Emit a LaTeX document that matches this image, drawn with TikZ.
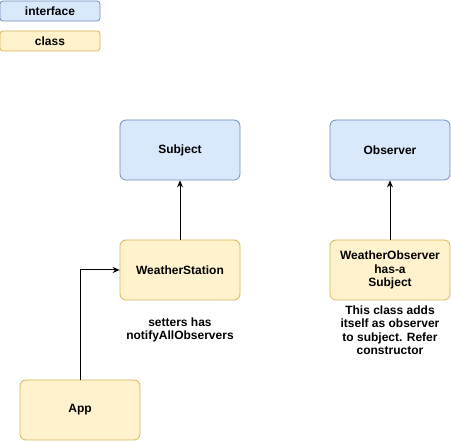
\documentclass[tikz,border=0pt]{standalone}
\usepackage{fontspec}
\setmainfont{Liberation Sans}
\usetikzlibrary{arrows.meta}

\definecolor{ifacefill}{HTML}{DAE8FC}
\definecolor{ifaceline}{HTML}{6C8EBF}
\definecolor{classfill}{HTML}{FFF2CC}
\definecolor{classline}{HTML}{D6B656}
\newcommand{\txt}{\fontsize{12}{13.5}\selectfont\bfseries}

\tikzset{
  iface/.style={draw=ifaceline, fill=ifacefill, rounded corners=6pt, minimum width=120pt, minimum height=60pt, align=center, line width=0.8pt, font=\txt},
  klass/.style={draw=classline, fill=classfill, rounded corners=6pt, minimum width=120pt, minimum height=60pt, align=center, line width=0.8pt, font=\txt},
  note/.style={align=center, font=\txt, inner sep=0pt},
  link/.style={-{Stealth[length=7pt,width=6pt]}, line width=1pt}
}

\begin{document}
\begin{tikzpicture}[x=1pt,y=-1pt]
  \useasboundingbox (0,0) rectangle (451,441);
  % legend
  \node[iface, minimum width=100pt, minimum height=20pt, rounded corners=3pt] (legi) at (50,11) {interface};
  \node[klass, minimum width=100pt, minimum height=20pt, rounded corners=3pt] (legc) at (50,41) {class};
  % interfaces
  \node[iface] (subject) at (180,150) {Subject};
  \node[iface] (observer) at (390,150) {Observer};
  % classes
  \node[klass] (station) at (180,270) {WeatherStation};
  \node[klass] (wobs) at (390,270) {WeatherObserver\\has-a\\Subject};
  \node[klass] (app) at (80,410) {App};
  % notes
  \node[note] (n1) at (180,330) {setters has\\notifyAllObservers};
  \node[note] (n2) at (390,330) {This class adds\\itself as observer\\to subject. Refer\\constructor};
  % arrows
  \draw[link] (station) -- (subject);
  \draw[link] (wobs) -- (observer);
  \draw[link] (app.north) |- (station.west);
\end{tikzpicture}
\end{document}
